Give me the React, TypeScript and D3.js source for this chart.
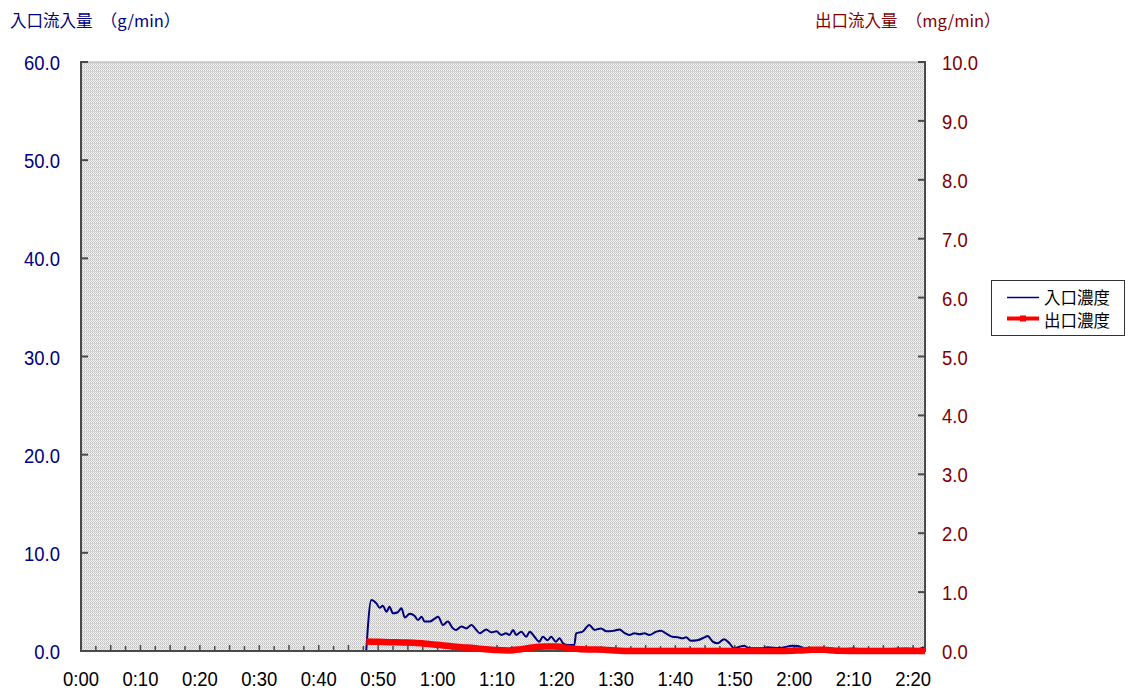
import React from "react";
import * as d3 from "d3";

// ---- data ----
const xTickLabels = ["0:00", "0:10", "0:20", "0:30", "0:40", "0:50", "1:00", "1:10", "1:20", "1:30", "1:40", "1:50", "2:00", "2:10", "2:20"];
const leftTicks = [0, 10, 20, 30, 40, 50, 60];
const rightTicks = [0, 1, 2, 3, 4, 5, 6, 7, 8, 9, 10];

// 入口濃度 (g/min), time in minutes
const inletTime = [
  48.0, 48.85, 49.7, 50.25, 50.8, 51.4, 51.9, 52.5, 53.3, 53.9, 54.5, 55.3, 56.1, 56.7, 57.3, 57.8, 58.7, 59.5, 60.1, 60.9,
  61.7, 62.6, 63.1, 64.0, 64.8, 65.7, 66.5, 67.1, 68.2, 69.0, 69.9, 70.7, 71.5, 72.1, 72.7, 73.2, 74.1, 74.9, 75.5, 76.3,
  77.1, 77.7, 78.5, 79.1, 79.9, 80.5, 81.1, 81.9, 83.0, 83.3, 84.4, 85.5, 86.4, 87.5, 88.4, 89.5, 90.6, 91.4, 92.3, 93.1,
  94.0, 94.8, 95.6, 96.8, 97.6, 98.4, 99.5, 100.4, 101.2, 101.8, 102.6, 103.7, 104.9, 105.4, 106.3, 107.1, 108.2, 109.1, 109.9, 110.8,
  111.6, 112.4, 114.7, 115.5, 117.5, 119.7, 120.6, 122.2, 124.2, 126.4, 127.6, 129.8, 132.0, 134.3, 136.5, 138.8, 141.0, 141.8,
];
const inletValue = [
  0.1, 5.2, 4.85, 4.4, 4.6, 4.0, 4.5, 3.84, 3.95, 4.35, 3.4, 3.8, 3.6, 3.15, 3.5, 3.0, 3.0, 3.3, 3.5, 2.65,
  3.0, 2.3, 2.15, 2.5, 2.3, 2.65, 2.15, 1.8, 2.2, 1.9, 2.0, 1.63, 1.8, 1.63, 2.15, 1.63, 1.97, 1.45, 1.97, 1.45,
  0.95, 1.45, 1.1, 1.45, 0.95, 1.3, 0.78, 0.6, 0.6, 1.8, 1.97, 2.65, 2.15, 2.3, 2.0, 2.05, 2.2, 1.85, 1.63, 1.8,
  1.7, 1.8, 1.63, 1.97, 2.07, 1.8, 1.45, 1.4, 1.29, 1.4, 1.05, 1.1, 1.39, 1.53, 0.95, 0.78, 1.19, 0.78, 0.27, 0.44,
  0.54, 0.27, 0.27, 0.38, 0.3, 0.54, 0.5, 0.2, 0.3, 0.2, 0.15, 0.25, 0.15, 0.15, 0.2, 0.25, 0.2, 0.4,
];

// 出口濃度 (mg/min)
const outletTime = [48, 50, 52, 54, 56, 58, 60, 62, 64, 66, 68, 70, 72, 74, 76, 78, 80, 82, 84, 86, 88, 90, 92, 100, 110, 118, 121, 123, 125, 127, 132, 142];
const outletValue = [0.16, 0.155, 0.15, 0.145, 0.14, 0.125, 0.105, 0.085, 0.065, 0.05, 0.03, 0.015, 0.01, 0.03, 0.06, 0.075, 0.075, 0.05, 0.03, 0.025, 0.02, 0.01, 0.0, 0.0, 0.0, 0.0, 0.01, 0.02, 0.02, 0.005, 0.0, 0.0];

const seriesNames = ["入口濃度", "出口濃度"];
const leftTitle = "入口流入量　（g/min）";
const rightTitle = "出口流入量　（mg/min）";

const NAVY = "#000080";
const DARKRED = "#800000";
const RED = "#FF0000";
const AXIS = "#4a4a4a";
const LATIN = "'Liberation Sans', Arial, sans-serif";
const CJK = "'Noto Sans CJK JP', 'Noto Sans', sans-serif";

export default function App() {
  const L = 81, R = 925, T = 62, B = 651;
  const x = d3.scaleLinear().domain([0, 142]).range([L, R]);
  const yL = d3.scaleLinear().domain([0, 60]).range([B, T]);
  const yR = d3.scaleLinear().domain([0, 10]).range([B, T]);

  const inletData = inletTime.map((t, i) => [t, inletValue[i]] as [number, number]);
  const outletData = outletTime.map((t, i) => [t, outletValue[i]] as [number, number]);

  const blueLine = d3.line<[number, number]>().x(d => x(d[0])).y(d => yL(d[1])).curve(d3.curveMonotoneX);
  const redLine = d3.line<[number, number]>().x(d => x(d[0])).y(d => yR(d[1])).curve(d3.curveMonotoneX);

  const minorTicks = d3.range(0, 142, 2.5);
  const sx = 0.88;

  return (
    <div style={{ position: "fixed", left: 0, top: 0 }}>
      <svg width={1128} height={690} style={{ display: "block", background: "#fff" }}>
        <defs>
          <pattern id="dots" width={2} height={4} patternUnits="userSpaceOnUse">
            <rect width={2} height={4} fill="#f6f6f6" />
            <rect x={0} y={0} width={1} height={1} fill="#c6c6c6" />
            <rect x={1} y={1} width={1} height={1} fill="#c6c6c6" />
            <rect x={0} y={2} width={1} height={1} fill="#c6c6c6" />
            <rect x={0} y={3} width={2} height={1} fill="#d6d6d6" />
          </pattern>
        </defs>

        {/* plot area */}
        <rect x={L} y={T} width={R - L} height={B - T} fill="url(#dots)" />
        <line x1={L} x2={R} y1={T} y2={T} stroke="#b0b0b0" strokeWidth={1} />

        {/* axes */}
        <line x1={L} x2={L} y1={T - 1} y2={B + 1} stroke={AXIS} strokeWidth={2} />
        <line x1={R} x2={R} y1={T - 1} y2={B + 1} stroke={AXIS} strokeWidth={2} />
        <line x1={L} x2={R} y1={B} y2={B} stroke={AXIS} strokeWidth={2} />

        {leftTicks.map(v => (
          <line key={"lt" + v} x1={L} x2={L + 7} y1={yL(v)} y2={yL(v)} stroke={AXIS} strokeWidth={2} />
        ))}
        {rightTicks.map(v => (
          <line key={"rt" + v} x1={R - 7} x2={R} y1={yR(v)} y2={yR(v)} stroke={AXIS} strokeWidth={2} />
        ))}
        {minorTicks.map(t => (
          <line key={"xt" + t} x1={x(t)} x2={x(t)} y1={B} y2={B - (t % 5 === 0 ? 6 : 5)} stroke={AXIS} strokeWidth={1.5} />
        ))}

        {/* series */}
        <path d={blueLine(inletData) || ""} fill="none" stroke={NAVY} strokeWidth={2} strokeLinejoin="round" />
        <path d={redLine(outletData) || ""} fill="none" stroke={RED} strokeWidth={6.5} strokeLinejoin="round" />

        {/* left axis labels */}
        {leftTicks.map(v => (
          <text key={"ll" + v} transform={`translate(60,${yL(v) + 8}) scale(${sx},1)`} textAnchor="end"
            fontFamily={LATIN} fontSize={21} fill={NAVY}>{v.toFixed(1)}</text>
        ))}
        {/* right axis labels */}
        {rightTicks.map(v => (
          <text key={"rl" + v} transform={`translate(942,${yR(v) + 8}) scale(${sx},1)`} textAnchor="start"
            fontFamily={LATIN} fontSize={21} fill={DARKRED}>{v.toFixed(1)}</text>
        ))}
        {/* x labels */}
        {xTickLabels.map((s, i) => (
          <text key={"xl" + i} transform={`translate(${x(i * 10)},686) scale(${sx},1)`} textAnchor="middle"
            fontFamily={LATIN} fontSize={21} fill="#000">{s}</text>
        ))}

        {/* titles */}
        <text x={10} y={26.5} fontFamily={CJK} fontSize={16.5} fill={NAVY}>{leftTitle}</text>
        <text x={815} y={26.5} fontFamily={CJK} fontSize={16.5} fill={DARKRED}>{rightTitle}</text>

        {/* legend */}
        <rect x={991.5} y={280.5} width={133} height={55} fill="#fff" stroke="#333" strokeWidth={1} />
        <line x1={1007} x2={1039} y1={297.5} y2={297.5} stroke={NAVY} strokeWidth={1.5} />
        <text x={1044} y={303.5} fontFamily={CJK} fontSize={16.5} fill="#000">{seriesNames[0]}</text>
        <line x1={1007} x2={1039} y1={318.5} y2={318.5} stroke={RED} strokeWidth={4} />
        <rect x={1020} y={315.5} width={6} height={6} fill={RED} />
        <text x={1044} y={327} fontFamily={CJK} fontSize={16.5} fill="#000">{seriesNames[1]}</text>
      </svg>
    </div>
  );
}
